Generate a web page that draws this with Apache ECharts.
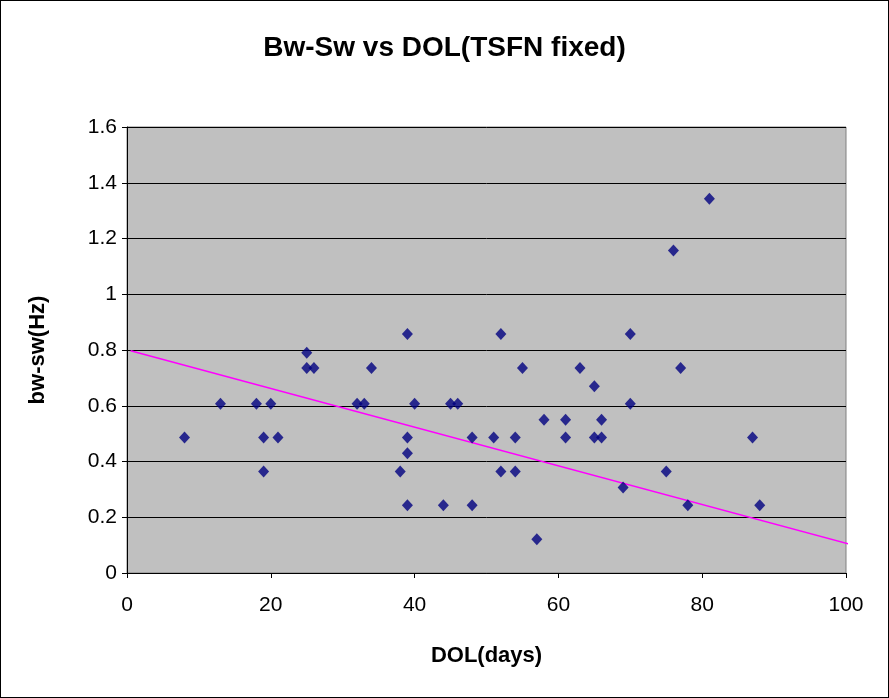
<!DOCTYPE html>
<html><head><meta charset="utf-8">
<script src="https://cdn.jsdelivr.net/npm/echarts@6/dist/echarts.min.js"></script>
<style>html,body{margin:0;padding:0;background:#fff}#c{width:889px;height:698px;box-sizing:border-box;border:1px solid #000}</style>
</head><body><div id="c"></div>
<script>
const dol = [8,13,18,19,19,20,21,25,25,26,32,33,34,38,39,39,39,39,40,44,45,46,48,48,51,52,52,54,54,55,57,58,61,61,63,65,65,66,66,69,70,70,75,76,77,78,81,87,88];
const bwsw = [0.486,0.607,0.607,0.486,0.364,0.607,0.486,0.79,0.735,0.735,0.607,0.607,0.735,0.364,0.857,0.486,0.43,0.243,0.607,0.243,0.607,0.607,0.486,0.243,0.486,0.857,0.364,0.486,0.364,0.735,0.121,0.55,0.55,0.486,0.735,0.67,0.486,0.55,0.486,0.307,0.857,0.607,0.364,1.157,0.735,0.243,1.343,0.486,0.243];
const trendX = [0.5, 101];
const trendY = [0.797, 0.1];
const chart = echarts.init(document.getElementById('c'));
const f = 'Arial, Liberation Sans, sans-serif';
chart.setOption({
  animation:false,
  title:{text:'Bw-Sw vs DOL(TSFN fixed)',left:'center',top:28,textStyle:{fontFamily:f,fontSize:28,fontWeight:'bold',color:'#000'}},
  grid:{left:126,right:42,top:126,bottom:124,show:true,backgroundColor:'#c0c0c0',borderColor:'#808080',borderWidth:1},
  xAxis:{type:'value',min:0,max:100,interval:20,name:'DOL(days)',nameLocation:'middle',nameGap:72,
    nameTextStyle:{fontFamily:f,fontSize:22,fontWeight:'bold',color:'#000'},
    axisLine:{show:true,onZero:false,lineStyle:{color:'#000'}},axisTick:{show:true,inside:false,length:5,lineStyle:{color:'#000'}},
    axisLabel:{fontFamily:f,fontSize:21,color:'#000',margin:22},splitLine:{show:false}},
  yAxis:{type:'value',min:0,max:1.6,interval:0.2,name:'bw-sw(Hz)',nameLocation:'middle',nameGap:78,
    nameTextStyle:{fontFamily:f,fontSize:22,fontWeight:'bold',color:'#000'},
    axisLine:{show:true,lineStyle:{color:'#000'}},axisTick:{show:true,length:5,lineStyle:{color:'#000'}},
    axisLabel:{fontFamily:f,fontSize:21,color:'#000',margin:10,formatter:v=>String(Math.round(v*10)/10)},
    splitLine:{show:true,lineStyle:{color:'#000',width:1}}},
  series:[
    {type:'line',data:trendX.map((x,i)=>[x,trendY[i]]),symbol:'none',lineStyle:{color:'#ff00ff',width:1.5},z:2},
    {type:'scatter',data:dol.map((x,i)=>[x,bwsw[i]]),symbol:'diamond',symbolSize:[11,12],itemStyle:{color:'#000080'},z:3}
  ]
});
</script></body></html>
